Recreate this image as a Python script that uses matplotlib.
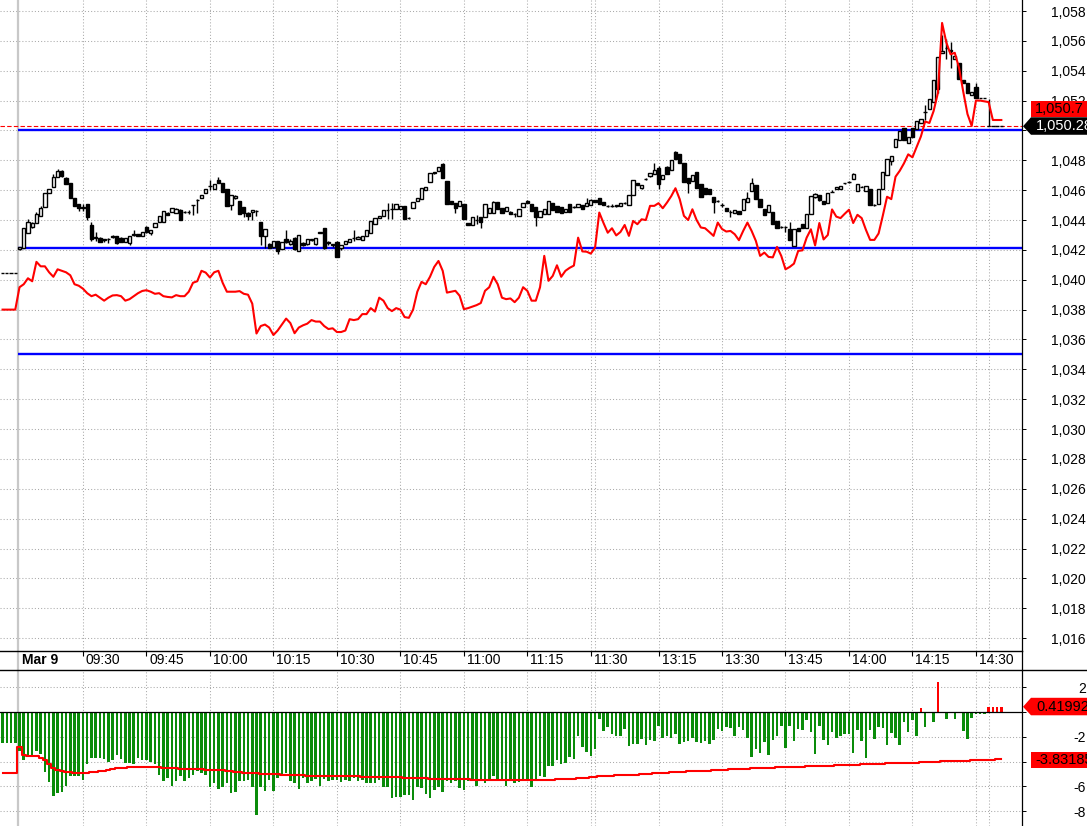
import numpy as np
import matplotlib.pyplot as plt
from matplotlib.patches import Rectangle, Polygon
from matplotlib.lines import Line2D

plt.rcParams['font.family'] = ['Liberation Sans', 'DejaVu Sans']

# bar -4..-1 = end of previous session, bar 0 = 09:15 Mar 9 (1 minute bars)
first_bar = -4

# prices are given as offsets from 1000
opens = np.array([
    40.45, 40.45, 40.45, 40.45,
    42.05, 42.15, 43.15, 43.55, 43.8, 44.3, 44.9, 45.8, 46.2, 46.85,
    47.3, 46.8, 46.5, 45.5, 45.1, 44.85, 45.1, 43.7, 42.8, 42.8,
    42.65, 42.7, 42.85, 42.9, 42.8, 42.55, 42.45, 43.0, 43.05, 42.9,
    43.55, 43.1, 43.55, 43.9, 43.9, 44.5, 44.55, 44.5, 44.7, 44.55,
    44.55, 45.0, 45.35, 45.45, 45.8, 46.25, 46.1, 46.7, 46.5, 46.05,
    45.0, 45.45, 45.3, 44.9, 44.5, 44.55, 44.6, 43.9, 42.95, 42.4,
    42.2, 42.6, 42.05, 42.75, 42.4, 42.8, 41.95, 42.45, 42.38, 42.65,
    42.38, 43.15, 43.45, 42.5, 42.38, 42.54, 42.1, 42.4, 42.56, 42.8,
    42.75, 42.65, 42.95, 43.16, 43.72, 44.17, 44.28, 44.66, 44.77, 44.72,
    44.72, 44.95, 44.15, 44.79, 45.28, 45.4, 46.0, 46.58, 47.2, 47.29,
    47.74, 46.62, 45.28, 45.17, 44.93, 45.1, 43.83, 43.65, 44.0, 44.21,
    44.21, 44.5, 44.5, 45.2, 44.79, 44.61, 44.55, 44.43, 44.28, 44.88,
    45.28, 45.1, 44.88, 44.21, 44.43, 44.39, 45.13, 44.95, 44.88, 44.55,
    45.06, 44.88, 44.88, 44.99, 44.95, 45.01, 45.33, 45.46, 45.2, 44.95,
    44.92, 45.0, 44.95, 45.17, 44.99, 45.68, 46.5, 46.17, 46.74, 46.96,
    47.07, 47.47, 46.74, 47.52, 47.34, 48.56, 48.45, 47.8, 46.8, 46.62,
    47.22, 46.4, 46.13, 46.07, 45.55, 45.28, 45.01, 44.83, 44.55, 44.5,
    44.61, 44.66, 45.24, 45.95, 46.33, 45.4, 44.77, 44.55, 44.55, 43.94,
    43.54, 43.54, 43.39, 42.27, 43.49, 43.72, 43.45, 44.43, 45.56, 45.68,
    45.29, 45.17, 45.9, 46.07, 46.1, 46.46, 46.57, 46.74, 45.96, 46.23,
    45.96, 46.06, 45.0, 45.1, 46.07, 47.04, 47.98, 48.87, 49.36, 50.14,
    49.14, 50.14, 50.1, 50.48, 51.26, 51.44, 51.93, 52.76, 55.21, 55.54,
    55.37, 54.78, 54.5, 53.38, 53.16, 52.37, 52.89, 52.15, 52.15, 50.28,
    50.28, 50.28, 50.28]) + 1000

highs = np.array([
    40.45, 40.45, 40.45, 40.45,
    42.2, 43.45, 44.05, 43.9, 44.55, 44.95, 45.8, 46.1, 47.1, 47.4,
    47.35, 46.9, 46.5, 45.5, 45.1, 45.1, 45.1, 43.9, 43.2, 42.85,
    42.7, 42.8, 43.0, 42.9, 42.85, 42.8, 42.9, 43.3, 43.05, 43.2,
    43.6, 43.35, 43.8, 44.3, 44.6, 44.55, 44.8, 44.8, 44.75, 44.6,
    44.65, 45.0, 45.4, 45.7, 46.1, 46.7, 46.4, 46.9, 46.5, 46.05,
    45.7, 45.7, 45.3, 44.9, 44.55, 44.7, 44.7, 43.9, 43.4, 42.45,
    42.6, 42.6, 42.5, 43.3, 42.7, 42.85, 43.0, 42.5, 42.72, 42.7,
    42.83, 43.2, 43.45, 42.6, 42.4, 42.6, 42.35, 42.6, 42.75, 43.3,
    42.9, 42.95, 43.3, 43.94, 44.17, 44.28, 44.66, 45.13, 45.17, 45.1,
    44.95, 44.95, 44.2, 45.24, 45.46, 46.17, 46.24, 47.14, 47.25, 47.56,
    47.8, 46.62, 45.3, 45.17, 45.28, 45.1, 43.83, 44.21, 44.35, 44.21,
    45.06, 44.83, 45.3, 45.2, 44.79, 44.88, 44.6, 44.45, 44.72, 45.13,
    45.35, 45.1, 44.88, 44.61, 44.72, 45.3, 45.13, 44.95, 44.88, 44.77,
    45.06, 44.95, 45.06, 44.99, 45.5, 45.4, 45.35, 45.5, 45.2, 45.0,
    45.05, 45.0, 45.17, 45.2, 45.68, 46.67, 46.5, 46.35, 46.8, 47.18,
    47.85, 47.6, 47.02, 47.6, 48.03, 48.6, 48.45, 47.8, 46.8, 47.02,
    47.22, 46.4, 46.13, 46.07, 45.55, 45.35, 45.15, 44.83, 44.7, 44.66,
    44.61, 45.44, 45.9, 46.8, 46.33, 45.4, 44.77, 44.99, 44.55, 43.94,
    43.6, 43.6, 43.9, 43.39, 43.49, 43.72, 44.43, 45.62, 45.8, 45.68,
    45.29, 45.79, 46.0, 46.23, 46.27, 46.5, 46.6, 47.15, 46.42, 46.3,
    46.3, 46.06, 45.05, 46.1, 47.2, 48.09, 48.31, 49.41, 49.96, 50.14,
    49.54, 50.14, 50.65, 50.75, 51.7, 52.09, 53.38, 54.9, 56.39, 56.1,
    55.9, 54.99, 54.5, 53.38, 53.16, 52.55, 53.2, 52.15, 52.15, 52.1,
    50.28, 50.28, 50.28]) + 1000

lows = np.array([
    40.45, 40.45, 40.45, 40.45,
    42.0, 42.15, 43.15, 43.5, 43.8, 44.3, 44.9, 45.8, 46.2, 46.85,
    46.9, 46.4, 45.5, 44.95, 44.6, 44.6, 44.0, 42.6, 42.6, 42.5,
    42.5, 42.45, 42.8, 42.4, 42.5, 42.5, 42.3, 42.9, 42.9, 42.9,
    43.15, 43.0, 43.55, 43.9, 43.9, 44.35, 44.55, 44.5, 44.0, 44.5,
    44.4, 44.35, 44.5, 45.45, 45.8, 46.0, 46.1, 46.5, 45.9, 44.95,
    44.7, 45.4, 44.4, 44.2, 44.0, 44.0, 44.3, 42.3, 42.15, 42.1,
    42.1, 41.7, 42.05, 42.45, 42.3, 42.0, 41.9, 42.25, 42.35, 42.6,
    42.35, 43.1, 42.05, 42.3, 42.2, 41.5, 42.0, 42.4, 42.5, 42.6,
    42.75, 42.65, 42.9, 43.16, 43.72, 44.17, 44.28, 44.06, 44.06, 44.72,
    44.72, 44.06, 44.1, 44.79, 45.28, 45.4, 46.0, 46.58, 47.1, 47.29,
    46.8, 45.06, 45.1, 44.5, 44.93, 44.06, 43.65, 43.65, 43.75, 43.5,
    44.21, 44.5, 44.5, 44.77, 44.5, 44.61, 44.43, 44.2, 44.28, 44.88,
    45.13, 44.61, 43.6, 44.21, 44.43, 44.39, 44.68, 44.55, 44.5, 44.55,
    44.55, 44.8, 44.88, 44.72, 44.95, 45.01, 45.22, 45.06, 45.0, 44.9,
    44.9, 44.9, 44.95, 45.1, 44.99, 45.68, 46.33, 46.05, 46.7, 46.85,
    47.07, 46.1, 46.74, 47.07, 47.34, 48.07, 47.8, 46.58, 45.8, 46.62,
    46.17, 45.57, 45.73, 45.77, 44.5, 45.2, 44.85, 44.61, 44.2, 44.5,
    44.43, 44.66, 45.24, 45.95, 45.4, 44.88, 44.32, 44.55, 43.72, 43.45,
    43.45, 43.2, 42.67, 42.27, 43.27, 43.49, 43.45, 44.43, 45.5, 45.3,
    45.07, 45.17, 45.85, 46.07, 46.1, 46.4, 46.5, 46.74, 45.96, 46.2,
    45.96, 45.0, 44.95, 45.1, 46.07, 47.04, 47.7, 48.87, 49.36, 49.36,
    49.14, 49.58, 50.1, 50.48, 50.7, 51.44, 51.93, 52.5, 55.21, 54.8,
    54.2, 54.78, 53.46, 53.16, 52.54, 52.37, 52.15, 52.15, 52.15, 50.28,
    50.28, 50.28, 50.28]) + 1000

closes = np.array([
    40.45, 40.45, 40.45, 40.45,
    42.2, 43.45, 43.9, 43.8, 44.4, 44.8, 45.8, 46.1, 46.85, 47.3,
    46.95, 46.4, 45.5, 44.95, 44.8, 44.8, 44.2, 42.7, 42.85, 42.55,
    42.7, 42.7, 42.9, 42.45, 42.5, 42.8, 42.9, 43.05, 42.9, 43.2,
    43.2, 43.35, 43.8, 44.3, 44.6, 44.35, 44.8, 44.75, 44.0, 44.55,
    44.55, 45.0, 45.35, 45.7, 46.1, 46.25, 46.4, 46.5, 45.9, 44.95,
    45.7, 45.6, 44.4, 44.5, 44.3, 44.65, 44.6, 42.95, 43.4, 42.15,
    42.6, 41.95, 42.5, 42.5, 42.6, 42.05, 43.0, 42.3, 42.72, 42.7,
    42.83, 43.2, 42.1, 42.45, 42.33, 41.55, 42.33, 42.6, 42.72, 42.8,
    42.87, 42.95, 43.3, 43.94, 44.17, 44.28, 44.66, 44.7, 44.77, 45.1,
    44.95, 44.06, 44.15, 45.24, 45.46, 46.17, 46.24, 47.14, 47.18, 47.56,
    46.8, 45.06, 45.1, 44.83, 45.28, 44.06, 43.65, 44.21, 44.0, 43.88,
    45.06, 44.83, 45.24, 44.77, 44.5, 44.88, 44.43, 44.43, 44.72, 45.13,
    45.13, 44.61, 44.21, 44.61, 44.72, 45.28, 44.68, 44.55, 44.5, 44.77,
    44.55, 44.88, 45.06, 44.72, 45.17, 45.33, 45.22, 45.06, 45.0, 44.95,
    44.92, 44.92, 45.17, 45.17, 45.68, 46.67, 46.33, 46.35, 46.74, 47.18,
    47.36, 46.4, 47.02, 47.07, 48.03, 48.07, 47.8, 46.58, 46.47, 47.02,
    46.17, 45.57, 45.73, 45.77, 45.24, 45.28, 45.01, 44.61, 44.55, 44.66,
    44.43, 45.44, 45.46, 46.51, 45.4, 44.88, 44.32, 44.99, 43.72, 43.45,
    43.54, 43.54, 42.67, 43.39, 43.27, 43.49, 44.43, 45.62, 45.74, 45.34,
    45.07, 45.79, 45.9, 46.23, 46.27, 46.46, 46.57, 47.06, 46.42, 46.23,
    46.3, 45.0, 45.0, 46.1, 47.2, 48.09, 48.31, 49.41, 49.96, 49.36,
    49.54, 49.58, 50.65, 50.75, 51.26, 52.09, 53.38, 54.9, 55.34, 55.54,
    55.3, 54.99, 53.46, 53.16, 52.54, 52.55, 52.15, 52.15, 52.15, 50.28,
    50.28, 50.28, 50.28]) + 1000

# red line on the price panel
ma = np.array([
    38.0, 38.0, 38.0, 38.0,
    39.5, 39.7, 40.1, 39.9, 41.2, 40.9, 40.9, 40.5, 40.2, 40.7,
    40.6, 40.5, 40.3, 39.7, 39.6, 39.4, 39.1, 38.9, 39.0, 38.8,
    38.6, 38.8, 38.95, 38.97, 38.9, 38.6, 38.7, 38.9, 39.1, 39.25,
    39.3, 39.2, 39.06, 39.1, 38.9, 38.85, 38.82, 38.97, 38.9, 38.9,
    39.2, 39.8, 39.9, 40.6, 40.48, 40.15, 40.5, 40.6, 39.8, 39.2,
    39.2, 39.2, 39.24, 39.06, 39.0, 38.4, 36.4, 36.9, 37.0, 36.8,
    36.3, 36.6, 37.0, 37.4, 37.1, 36.42, 36.8, 36.95, 37.06, 37.3,
    37.2, 37.2, 36.9, 36.7, 36.75, 36.5, 36.5, 36.6, 37.36, 37.3,
    37.36, 37.7, 37.7, 38.1, 37.87, 38.8, 38.6, 38.1, 37.9, 38.1,
    38.0, 37.5, 37.45, 38.0, 39.2, 39.86, 39.7, 40.2, 40.86, 41.26,
    40.6, 39.14, 39.2, 39.26, 38.93, 38.03, 38.1, 38.2, 38.3, 38.44,
    39.26, 39.5, 40.2, 39.7, 38.8, 38.7, 38.75, 38.5, 38.8, 39.5,
    39.26, 38.6, 38.6, 39.5, 41.6, 39.93, 40.26, 40.97, 40.2, 40.6,
    40.8, 40.95, 42.82, 41.9, 41.88, 41.75, 42.15, 44.5, 43.8, 43.15,
    43.45, 42.97, 43.2, 43.67, 42.94, 43.94, 43.72, 44.05, 44.0, 44.95,
    44.95, 45.13, 44.79, 45.17, 45.6, 46.13, 45.4, 44.28, 44.0, 44.72,
    44.0, 43.5, 43.45, 43.2, 42.94, 43.83, 43.4, 43.23, 43.27, 43.05,
    42.65, 43.27, 43.83, 43.27, 42.6, 41.6, 41.82, 41.53, 41.5, 42.2,
    41.6, 40.7, 40.86, 41.08, 41.93, 41.97, 42.82, 43.38, 42.3, 43.8,
    42.7, 43.0, 44.71, 44.23, 44.13, 44.42, 44.69, 43.8, 44.35, 44.13,
    43.35, 42.67, 42.67, 43.1, 44.3, 45.56, 45.4, 46.9, 47.3, 47.8,
    48.4, 48.2, 48.9, 49.6, 50.6, 50.5, 51.3, 52.5, 57.2, 55.9,
    55.1, 55.2, 54.2, 52.6, 51.1, 50.3, 52.0, 52.0, 51.95, 51.9,
    50.7, 50.7, 50.7]) + 1000

# lower panel histogram and its red line
hist = np.array([
    -2.54, -2.54, -2.54, -2.54,
    -3.14, -3.88, -3.55, -3.5, -3.14, -3.42, -4.86, -5.68, -6.75, -6.5,
    -6.42, -5.93, -5.19, -5.19, -5.19, -5.52, -4.23, -3.69, -3.69, -3.69,
    -3.77, -4.04, -3.88, -3.5, -3.83, -4.15, -4.15, -4.23, -3.69, -3.88,
    -3.88, -4.04, -4.23, -5.05, -5.6, -5.33, -5.93, -5.6, -5.19, -5.6,
    -5.33, -5.05, -4.78, -4.92, -5.05, -6.01, -5.74, -6.23, -6.01, -5.74,
    -6.56, -6.42, -5.6, -5.6, -5.46, -6.01, -8.28, -6.01, -6.34, -5.46,
    -6.34, -5.33, -5.19, -4.92, -5.6, -5.74, -6.23, -5.33, -5.74, -5.6,
    -5.41, -5.93, -5.41, -5.6, -5.52, -5.46, -5.66, -5.46, -5.6, -5.33,
    -5.6, -5.52, -5.74, -5.74, -5.74, -5.46, -6.01, -6.01, -6.97, -6.89,
    -6.89, -6.69, -6.69, -7.1, -6.01, -6.15, -6.61, -6.97, -6.28, -6.01,
    -6.42, -5.6, -5.74, -5.6, -6.15, -6.28, -5.6, -5.46, -5.96, -5.46,
    -5.74, -5.46, -5.14, -5.46, -5.6, -5.93, -5.6, -5.74, -5.68, -5.46,
    -5.6, -6.07, -5.46, -5.19, -5.25, -4.37, -4.32, -3.88, -4.23, -4.15,
    -3.61, -3.77, -1.91, -2.79, -3.22, -3.55, -2.95, -0.55, -1.5, -1.23,
    -1.78, -1.97, -1.91, -1.37, -2.73, -2.6, -2.6, -2.19, -2.68, -2.24,
    -2.32, -1.15, -2.1, -1.97, -2.13, -1.78, -2.6, -2.4, -2.32, -2.13,
    -2.4, -2.51, -2.32, -2.62, -2.24, -1.37, -1.5, -1.23, -1.31, -1.97,
    -1.23, -1.42, -2.1, -3.63, -3.0, -3.33, -2.4, -3.44, -2.24, -1.91,
    -1.15, -2.87, -1.09, -2.32, -1.37, -1.42, -0.63, -1.58, -3.36, -1.15,
    -2.24, -2.65, -1.64, -2.1, -1.91, -1.78, -1.78, -3.28, -1.45, -2.32,
    -3.69, -1.45, -2.19, -1.23, -1.31, -2.68, -1.69, -2.13, -2.68, -0.77,
    -1.58, -0.63, -1.91, 0.36, -1.23, 0.0, -0.82, 2.4, 0.0, -0.55,
    0.0, -0.6, 0.0, -1.5, -2.19, -0.46, -0.14, -0.16, -0.16, 0.42,
    0.42, 0.42, 0.42])

hist_avg = np.array([
    -4.92, -4.92, -4.92, -4.92,
    -2.79, -3.45, -3.55, -3.55, -3.55, -3.7, -3.9, -4.2, -4.5, -4.7,
    -4.78, -4.83, -4.86, -4.88, -4.9, -4.92, -4.9, -4.86, -4.8, -4.75,
    -4.72, -4.65, -4.59, -4.55, -4.51, -4.48, -4.46, -4.45, -4.45, -4.45,
    -4.45, -4.45, -4.45, -4.47, -4.49, -4.51, -4.53, -4.55, -4.57, -4.58,
    -4.59, -4.6, -4.62, -4.63, -4.64, -4.65, -4.67, -4.69, -4.71, -4.73,
    -4.76, -4.8, -4.84, -4.88, -4.92, -4.94, -4.95, -4.96, -4.97, -4.99,
    -5.01, -5.03, -5.05, -5.06, -5.08, -5.09, -5.11, -5.12, -5.13, -5.13,
    -5.14, -5.15, -5.16, -5.17, -5.18, -5.19, -5.19, -5.19, -5.19, -5.19,
    -5.2, -5.21, -5.22, -5.23, -5.24, -5.25, -5.25, -5.25, -5.26, -5.27,
    -5.28, -5.29, -5.3, -5.31, -5.32, -5.33, -5.35, -5.37, -5.39, -5.41,
    -5.41, -5.42, -5.42, -5.43, -5.43, -5.44, -5.44, -5.45, -5.45, -5.45,
    -5.46, -5.46, -5.46, -5.46, -5.46, -5.46, -5.46, -5.46, -5.46, -5.46,
    -5.46, -5.46, -5.46, -5.46, -5.46, -5.45, -5.45, -5.44, -5.43, -5.42,
    -5.4, -5.38, -5.36, -5.33, -5.3, -5.27, -5.23, -5.19, -5.17, -5.15,
    -5.13, -5.11, -5.1, -5.08, -5.07, -5.06, -5.05, -5.03, -5.0, -4.97,
    -4.95, -4.92, -4.9, -4.88, -4.86, -4.85, -4.83, -4.81, -4.79, -4.78,
    -4.76, -4.75, -4.73, -4.72, -4.7, -4.68, -4.66, -4.64, -4.62, -4.59,
    -4.58, -4.57, -4.56, -4.54, -4.53, -4.51, -4.5, -4.49, -4.48, -4.46,
    -4.45, -4.44, -4.43, -4.42, -4.41, -4.4, -4.39, -4.37, -4.36, -4.35,
    -4.34, -4.33, -4.32, -4.31, -4.29, -4.28, -4.27, -4.25, -4.24, -4.22,
    -4.21, -4.2, -4.19, -4.17, -4.16, -4.15, -4.14, -4.13, -4.12, -4.11,
    -4.1, -4.09, -4.08, -4.07, -4.05, -4.04, -4.02, -4.0, -3.98, -3.97,
    -3.96, -3.95, -3.94, -3.93, -3.92, -3.91, -3.9, -3.88, -3.86, -3.85,
    -3.84, -3.83, -3.83])

levels = [1050.0, 1042.1, 1035.0]
last_price = 1050.28
ma_last = 1050.7
hist_last = 0.41992
avg_last = -3.83185

time_labels = ['09:30', '09:45', '10:00', '10:15', '10:30', '10:45', '11:00', '11:15',
               '11:30', '13:15', '13:30', '13:45', '14:00', '14:15', '14:30']
time_bars = [15, 30, 45, 60, 75, 90, 105, 120, 135, 151, 166, 181, 196, 211, 226]
extra_grid = [136, 229]  # afternoon session start, current bar
day_start = -0.4

price_ticks = np.arange(1016, 1059, 2)
osc_ticks = [2, 0, -2, -4, -6, -8]
# tick labels that sit under the value boxes are not shown
hidden_price = [1050]
hidden_osc = [0, -4]

x = np.arange(len(closes)) + first_bar

W, H = 1087, 826
fig = plt.figure(figsize=(W / 100, H / 100), dpi=100)
fig.patch.set_facecolor('white')


def rect_px(x0, y0, w, h):
    return [x0 / W, 1 - (y0 + h) / H, w / W, h / H]


MAIN_H = 650.5
STRIP_H = 19.8
OSC_TOP = MAIN_H + STRIP_H
OSC_H = H - OSC_TOP

ax = fig.add_axes(rect_px(0, 0, 1022, MAIN_H))
strip = fig.add_axes(rect_px(0, MAIN_H, 1022, STRIP_H))
osc = fig.add_axes(rect_px(0, OSC_TOP, 1022, OSC_H))

xlim = (-19.5 / 4.232, (1022 - 19.5) / 4.232)
main_ylim = (1015.17, 1058.737)
osc_ylim = (-(H - 712) / 12.4, (712 - OSC_TOP) / 12.4)

grid_kw = dict(color='#aaaaaa', lw=0.75, ls=(0, (1, 2)), zorder=1)
RED = '#ff0000'

for a in (ax, strip, osc):
    a.set_xlim(*xlim)
    a.set_xticks([])
    for s in ('left', 'top', 'bottom'):
        a.spines[s].set_visible(False)
    a.spines['right'].set_color('black')
    a.spines['right'].set_linewidth(0.9)
    a.axvline(day_start, color='#c8c8c8', lw=1.6, zorder=1.5)

for a in (ax, osc):
    for b in time_bars + extra_grid:
        a.axvline(b, **grid_kw)

# ---- price panel
ax.set_ylim(*main_ylim)
for v in price_ticks:
    ax.axhline(v, **grid_kw)

ax.hlines(levels, day_start + 0.1, xlim[1], color='#0000ff', lw=1.7, zorder=2.5)
ax.axhline(last_price, color=RED, lw=0.8, ls=(0, (4, 2)), zorder=2.6)

up = closes >= opens
body_lo = np.minimum(opens, closes)
body_h = np.abs(closes - opens)
ax.vlines(x, lows, highs, color='black', lw=1.0, zorder=3)
ax.bar(x, body_h, bottom=body_lo, width=0.78,
       color=np.where(up, 'white', 'black'), edgecolor='black', lw=1.0, zorder=4)
ax.plot(x, ma, color=RED, lw=1.5, zorder=5)

ax.yaxis.tick_right()
ax.set_yticks(price_ticks, labels=['' if v in hidden_price else f'{v:,d}' for v in price_ticks])
ax.tick_params(axis='y', direction='out', length=3, width=0.7, pad=43, labelsize=10,
               colors='black')
for lbl in ax.get_yticklabels():
    lbl.set_horizontalalignment('right')

# ---- date strip
strip.set_ylim(0, 1)
strip.set_yticks([])
strip.vlines(time_bars, 0.72, 1, color='black', lw=0.8)
for b, lbl in zip(time_bars, time_labels):
    strip.annotate(lbl, (b, 0.5), xytext=(3, 0), textcoords='offset pixels',
                   ha='left', va='center', fontsize=10, color='black')
strip.annotate('Mar 9', (day_start, 0.5), xytext=(4, 0), textcoords='offset pixels',
               ha='left', va='center', fontsize=10, fontweight='bold', color='black')
fig.add_artist(Line2D([0, 1022 / W], [1 - MAIN_H / H] * 2, color='black', lw=1))
fig.add_artist(Line2D([0, 1], [1 - OSC_TOP / H] * 2, color='black', lw=1))

# ---- oscillator panel
osc.set_ylim(*osc_ylim)
for v in osc_ticks:
    if v != 0:
        osc.axhline(v, **grid_kw)
osc.bar(x, hist, width=0.6, color=np.where(hist >= 0, RED, '#0a8c0a'), lw=0, zorder=3)
osc.axhline(0, color='black', lw=0.9, zorder=4)
osc.plot(x, hist_avg, color=RED, lw=1.5, drawstyle='steps-mid', zorder=5)
osc.yaxis.tick_right()
osc.set_yticks(osc_ticks, labels=['' if v in hidden_osc else f'{v:d}' for v in osc_ticks])
osc.tick_params(axis='y', direction='out', length=3, width=0.7, pad=43, labelsize=10,
                colors='black')
for lbl in osc.get_yticklabels():
    lbl.set_horizontalalignment('right')


# ---- value boxes on the right axis
def y_px(a, top_px, height_px, v):
    lo, hi = a.get_ylim()
    return top_px + (hi - v) / (hi - lo) * height_px


def fpt(xp, yp):
    return (xp / W, 1 - yp / H)


def arrow_box(yc, color, text, tcolor):
    pts = [fpt(1023, yc), fpt(1031, yc - 9), fpt(1087, yc - 9),
           fpt(1087, yc + 8.5), fpt(1031, yc + 8.5)]
    fig.add_artist(Polygon(pts, closed=True, transform=fig.transFigure,
                           facecolor=color, edgecolor='none', zorder=10))
    fig.text(1036 / W, 1 - yc / H, text, color=tcolor, fontsize=10.5,
             ha='left', va='center', zorder=11)


def plain_box(yc, color, text, tcolor):
    fig.add_artist(Rectangle(fpt(1031, yc + 8), 56 / W, 16 / H, transform=fig.transFigure,
                             facecolor=color, edgecolor='none', zorder=10))
    fig.text(1035 / W, 1 - yc / H, text, color=tcolor, fontsize=10.5,
             ha='left', va='center', zorder=11)


y_last = y_px(ax, 0, MAIN_H, last_price)
arrow_box(y_last, 'black', f'{last_price:,.2f}', 'white')
# the red box sits right above the black one so the two do not overlap
plain_box(y_last - 17.5, RED, f'{ma_last:,.1f}', 'black')
arrow_box(y_px(osc, OSC_TOP, OSC_H, hist_last), RED, f'{hist_last:.5f}', 'black')
plain_box(y_px(osc, OSC_TOP, OSC_H, avg_last), RED, f'{avg_last:.5f}', 'black')

fig.savefig('out.png', dpi=100)
